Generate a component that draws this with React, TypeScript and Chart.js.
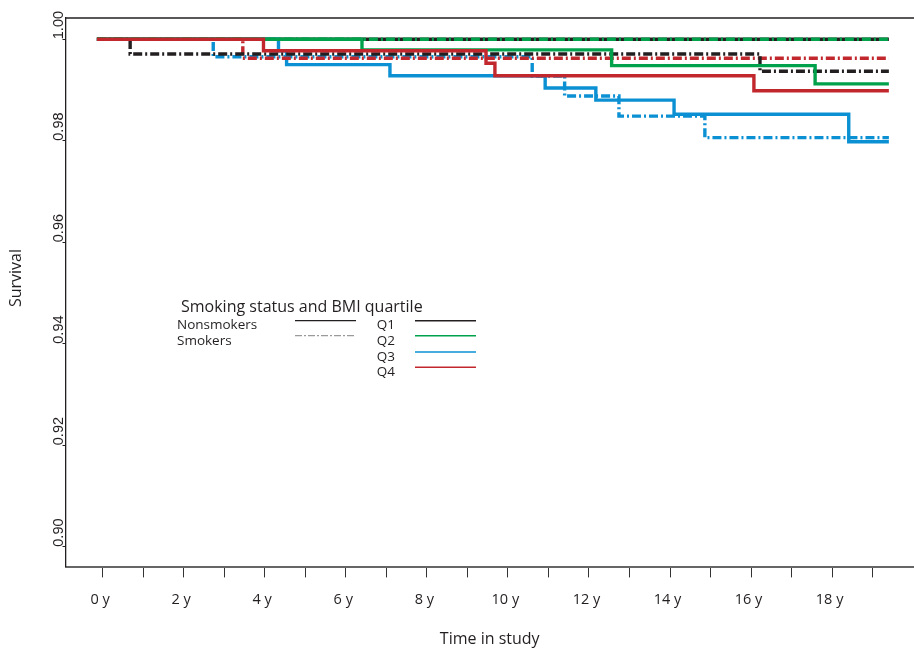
import React, { useEffect, useRef } from "react";
import { Chart, registerables } from "chart.js";

Chart.register(...registerables);

// ---- data ----
const T_START = -0.14;
const T_END = 19.4;

// Q1 nonsmokers (solid black)
const q1NonTimes = [T_START, T_END];
const q1NonSurv = [1.0, 1.0];
// Q1 smokers (dash-dot black)
const q1SmkTimes = [T_START, 0.68, 16.22, T_END];
const q1SmkSurv = [1.0, 0.9971, 0.9937, 0.9937];
// Q2 nonsmokers (solid green)
const q2NonTimes = [T_START, 6.4, 12.56, 17.58, T_END];
const q2NonSurv = [1.0, 0.9979, 0.9948, 0.9912, 0.9912];
// Q2 smokers (dash-dot green)
const q2SmkTimes = [T_START, T_END];
const q2SmkSurv = [1.0, 1.0];
// Q3 nonsmokers (solid blue)
const q3NonTimes = [T_START, 4.34, 4.54, 7.09, 10.92, 12.17, 14.1, 18.41, T_END];
const q3NonSurv = [1.0, 0.9977, 0.995, 0.9928, 0.9904, 0.988, 0.9852, 0.9798, 0.9798];
// Q3 smokers (dash-dot blue)
const q3SmkTimes = [T_START, 2.73, 10.6, 11.4, 12.74, 14.86, T_END];
const q3SmkSurv = [1.0, 0.99655, 0.99275, 0.9888, 0.98485, 0.9806, 0.9806];
// Q4 nonsmokers (solid red)
const q4NonTimes = [T_START, 3.97, 9.46, 9.68, 16.07, T_END];
const q4NonSurv = [1.0, 0.99773, 0.99525, 0.99281, 0.98985, 0.98985];
// Q4 smokers (dash-dot red)
const q4SmkTimes = [T_START, 3.46, T_END];
const q4SmkSurv = [1.0, 0.99624, 0.99624];

const xTickValues = [0, 1, 2, 3, 4, 5, 6, 7, 8, 9, 10, 11, 12, 13, 14, 15, 16, 17, 18, 19];
const xLabelValues = [0, 2, 4, 6, 8, 10, 12, 14, 16, 18];
const yTickValues = [0.9, 0.92, 0.94, 0.96, 0.98, 1.0];

const quartileLabels = ["Q1", "Q2", "Q3", "Q4"];
const smokingLabels = ["Nonsmokers", "Smokers"];
const legendTitle = "Smoking status and BMI quartile";

const BLACK = "#231f20";
const GREEN = "#00a14b";
const BLUE = "#0b90d3";
const RED = "#c1272d";
const quartileColors = [BLACK, GREEN, BLUE, RED];

const DASH_DOT = [9, 3, 2, 3];

const pts = (t: number[], s: number[]) => t.map((x, i) => ({ x, y: s[i] }));

const extrasPlugin = {
  id: "extras",
  afterDraw(chart: any) {
    const ctx = chart.ctx as CanvasRenderingContext2D;
    const area = chart.chartArea;
    const ys = chart.scales.y;
    ctx.save();
    // top frame line
    ctx.strokeStyle = BLACK;
    ctx.lineWidth = 1.3;
    ctx.beginPath();
    ctx.moveTo(area.left, area.top);
    ctx.lineTo(area.right, area.top);
    ctx.stroke();

    // y tick labels (rotated)
    ctx.fillStyle = BLACK;
    ctx.font = '14.5px "Liberation Sans", Arial, sans-serif';
    ctx.textAlign = "left";
    ctx.textBaseline = "alphabetic";
    ys.ticks.forEach((tk: any) => {
      const py = ys.getPixelForValue(tk.value);
      ctx.save();
      ctx.translate(63.3, py);
      ctx.rotate(-Math.PI / 2);
      ctx.fillText(Number(tk.value).toFixed(2), 0, 0);
      ctx.restore();
    });

    // y axis title
    ctx.save();
    ctx.font = '16px "Open Sans", sans-serif';
    ctx.textAlign = "center";
    ctx.textBaseline = "middle";
    ctx.translate(16, 278);
    ctx.rotate(-Math.PI / 2);
    ctx.fillText("Survival", 0, 0);
    ctx.restore();

    // legend
    ctx.textAlign = "left";
    ctx.textBaseline = "alphabetic";
    ctx.font = '16px "Open Sans", sans-serif';
    ctx.fillText(legendTitle, 181, 312);
    ctx.font = '13.5px "Open Sans", sans-serif';
    const smkBase = [329, 345];
    const smkLineY = [320.7, 335.7];
    smokingLabels.forEach((lab, i) => {
      ctx.fillStyle = BLACK;
      ctx.fillText(lab, 177, smkBase[i]);
      ctx.beginPath();
      ctx.lineWidth = 1.3;
      if (i === 0) {
        ctx.strokeStyle = BLACK;
        ctx.setLineDash([]);
      } else {
        ctx.strokeStyle = "#9a9a9a";
        ctx.setLineDash([7, 2, 2, 2]);
      }
      ctx.moveTo(295, smkLineY[i]);
      ctx.lineTo(356, smkLineY[i]);
      ctx.stroke();
    });
    ctx.setLineDash([]);
    const qBase = [329, 345, 360.7, 376];
    const qLineY = [320.7, 335.7, 352, 367.3];
    quartileLabels.forEach((lab, i) => {
      ctx.fillStyle = BLACK;
      ctx.fillText(lab, 376.7, qBase[i]);
      ctx.beginPath();
      ctx.strokeStyle = quartileColors[i];
      ctx.lineWidth = 1.5;
      ctx.moveTo(415, qLineY[i]);
      ctx.lineTo(476, qLineY[i]);
      ctx.stroke();
    });
    ctx.restore();
  },
};

export default function App() {
  const ref = useRef<HTMLCanvasElement | null>(null);

  useEffect(() => {
    if (!ref.current) return;
    const solid = (label: string, color: string, t: number[], s: number[]) => ({
      label,
      data: pts(t, s),
      borderColor: color,
      backgroundColor: color,
      borderWidth: 3.4,
      stepped: true as const,
      pointRadius: 0,
      fill: false,
      borderCapStyle: "butt" as const,
    });
    const dashed = (label: string, color: string, t: number[], s: number[]) => ({
      ...solid(label, color, t, s),
      borderDash: DASH_DOT,
    });

    const datasets = [
      solid("Q4 nonsmokers", RED, q4NonTimes, q4NonSurv),
      solid("Q2 nonsmokers", GREEN, q2NonTimes, q2NonSurv),
      dashed("Q2 smokers", GREEN, q2SmkTimes, q2SmkSurv),
      dashed("Q1 smokers", BLACK, q1SmkTimes, q1SmkSurv),
      dashed("Q4 smokers", RED, q4SmkTimes, q4SmkSurv),
      dashed("Q3 smokers", BLUE, q3SmkTimes, q3SmkSurv),
      solid("Q3 nonsmokers", BLUE, q3NonTimes, q3NonSurv),
      solid("Q1 nonsmokers", BLACK, q1NonTimes, q1NonSurv),
    ];

    const chart = new Chart(ref.current, {
      type: "line",
      data: { datasets },
      options: {
        animation: false,
        responsive: false,
        maintainAspectRatio: false,
        layout: { padding: { top: 18, right: 0, left: 0, bottom: 0 } },
        plugins: {
          legend: { display: false },
          tooltip: { enabled: false },
        },
        scales: {
          x: {
            type: "linear",
            min: -0.915,
            max: 20.02,
            afterBuildTicks: (s: any) => {
              s.ticks = xTickValues.map((v) => ({ value: v }));
            },
            afterFit: (s: any) => {
              s.height = 82.3;
            },
            grid: {
              drawOnChartArea: false,
              drawTicks: true,
              tickLength: 10.7,
              color: "#333333",
              lineWidth: 1,
            },
            border: { display: true, color: "#666666", width: 2 },
            ticks: {
              autoSkip: false,
              maxRotation: 0,
              minRotation: 0,
              padding: 14,
              labelOffset: -2.5,
              color: BLACK,
              font: { family: "Open Sans", size: 14.5 },
              callback: (v: any) => (xLabelValues.includes(Number(v)) ? `${v} y` : ""),
            },
            title: {
              display: true,
              text: "Time in study",
              color: BLACK,
              font: { family: "Open Sans", size: 16 },
              padding: { top: 0, bottom: 0 },
            },
          },
          y: {
            type: "linear",
            min: 0.89606,
            max: 1.00418,
            afterBuildTicks: (s: any) => {
              s.ticks = yTickValues.map((v) => ({ value: v }));
            },
            afterFit: (s: any) => {
              s.width = 65.5;
            },
            grid: {
              drawOnChartArea: false,
              drawTicks: true,
              tickLength: 3,
              color: BLACK,
              lineWidth: 1,
            },
            border: { display: true, color: BLACK, width: 1.3 },
            ticks: { display: false },
          },
        },
      },
      plugins: [extrasPlugin],
    });
    return () => chart.destroy();
  }, []);

  return (
    <div style={{ position: "absolute", left: 0, top: 0, width: 914, height: 649, background: "#fff" }}>
      <canvas ref={ref} width={914} height={649} style={{ display: "block" }} />
    </div>
  );
}
